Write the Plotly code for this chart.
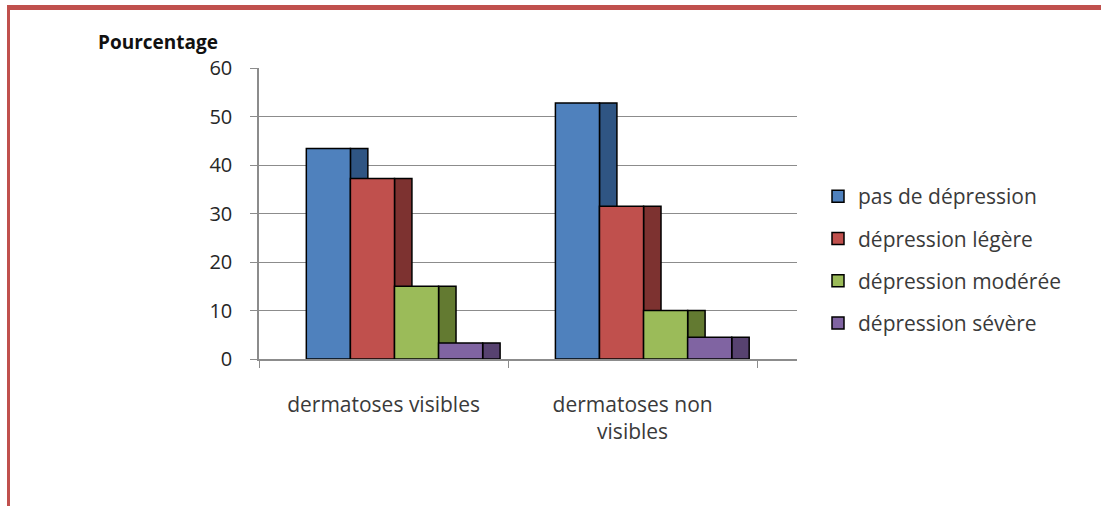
import plotly.graph_objects as go

# Data: share of patients (%) by depression level, per dermatosis type
categories = ["dermatoses visibles", "dermatoses non<br>visibles"]
series_names = ["pas de dépression", "dépression légère",
                "dépression modérée", "dépression sévère"]
pas_de_depression = [43.4, 52.8]
depression_legere = [37.2, 31.5]
depression_moderee = [15.0, 10.0]
depression_severe = [3.3, 4.5]
y_ticks = [0, 10, 20, 30, 40, 50, 60]

series_values = [pas_de_depression, depression_legere,
                 depression_moderee, depression_severe]

front_colors = ["#4F81BD", "#C0504D", "#9BBB59", "#8064A2"]
side_colors = ["#2F5583", "#7D3230", "#637A31", "#574270"]

# Figure geometry (pixels)
W, H = 1101, 506
PL, PR, PT, PB = 259, 797, 68, 359


def px_x(p):
    return (p - PL) / (PR - PL)


def px_y(p):
    return (PB - p) / (PB - PT)


bar_w = 0.177      # front face width (category units)
depth_w = 0.07     # visible side face width
start = -0.31      # left edge of first bar relative to category centre

fig = go.Figure()
for i, (name, vals) in enumerate(zip(series_names, series_values)):
    # darker side face, drawn first so the next bar covers it
    fig.add_trace(go.Bar(
        x=categories, y=vals, name=name, showlegend=False,
        offset=start + (i + 1) * bar_w, width=depth_w,
        marker=dict(color=side_colors[i], line=dict(color="black", width=1.5)),
        hoverinfo="skip",
    ))
    # front face
    fig.add_trace(go.Bar(
        x=categories, y=vals, name=name, legendgroup=name,
        offset=start + i * bar_w, width=bar_w,
        marker=dict(color=front_colors[i], line=dict(color="black", width=1.5)),
    ))

font_family = "Open Sans, Lato, sans-serif"

fig.update_layout(
    width=W, height=H,
    margin=dict(l=PL, r=W - PR, t=PT, b=H - PB),
    paper_bgcolor="white", plot_bgcolor="white",
    barmode="overlay",
    font=dict(family=font_family, size=20, color="#3A3A3A"),
    xaxis=dict(
        type="category", range=[-0.5, 1.66],
        tickson="boundaries", ticks="outside", ticklen=7, tickcolor="#8C8C8C",
        showline=True, linecolor="#8C8C8C", linewidth=1.5,
        showgrid=False, ticklabelstandoff=26,
        tickfont=dict(size=21, color="#3A3A3A"),
    ),
    yaxis=dict(
        range=[0, 60], tickvals=y_ticks,
        showgrid=True, gridcolor="#8C8C8C", gridwidth=1.3,
        zeroline=False,
        showline=True, linecolor="#8C8C8C", linewidth=1.5,
        ticks="outside", ticklen=7, tickcolor="#8C8C8C",
        ticklabelstandoff=14,
        tickfont=dict(size=20, color="#262626"),
    ),
    legend=dict(
        x=px_x(818), xanchor="left", y=px_y(176), yanchor="top",
        traceorder="grouped", tracegroupgap=12,
        font=dict(size=21, color="#3A3A3A"),
        bgcolor="rgba(0,0,0,0)",
    ),
    annotations=[dict(
        text="<b>Pourcentage</b>", xref="paper", yref="paper",
        x=px_x(96), y=px_y(42), xanchor="left", yanchor="middle",
        showarrow=False, font=dict(size=19, color="#111111"),
    )],
    shapes=[
        # red frame: top band and left edge
        dict(type="rect", xref="paper", yref="paper",
             x0=px_x(7), x1=px_x(W), y0=px_y(5), y1=px_y(10),
             fillcolor="#C0504D", line=dict(width=0), layer="above"),
        dict(type="rect", xref="paper", yref="paper",
             x0=px_x(7), x1=px_x(10), y0=px_y(5), y1=px_y(H),
             fillcolor="#C0504D", line=dict(width=0), layer="above"),
    ],
)

fig.write_html("out.html")
